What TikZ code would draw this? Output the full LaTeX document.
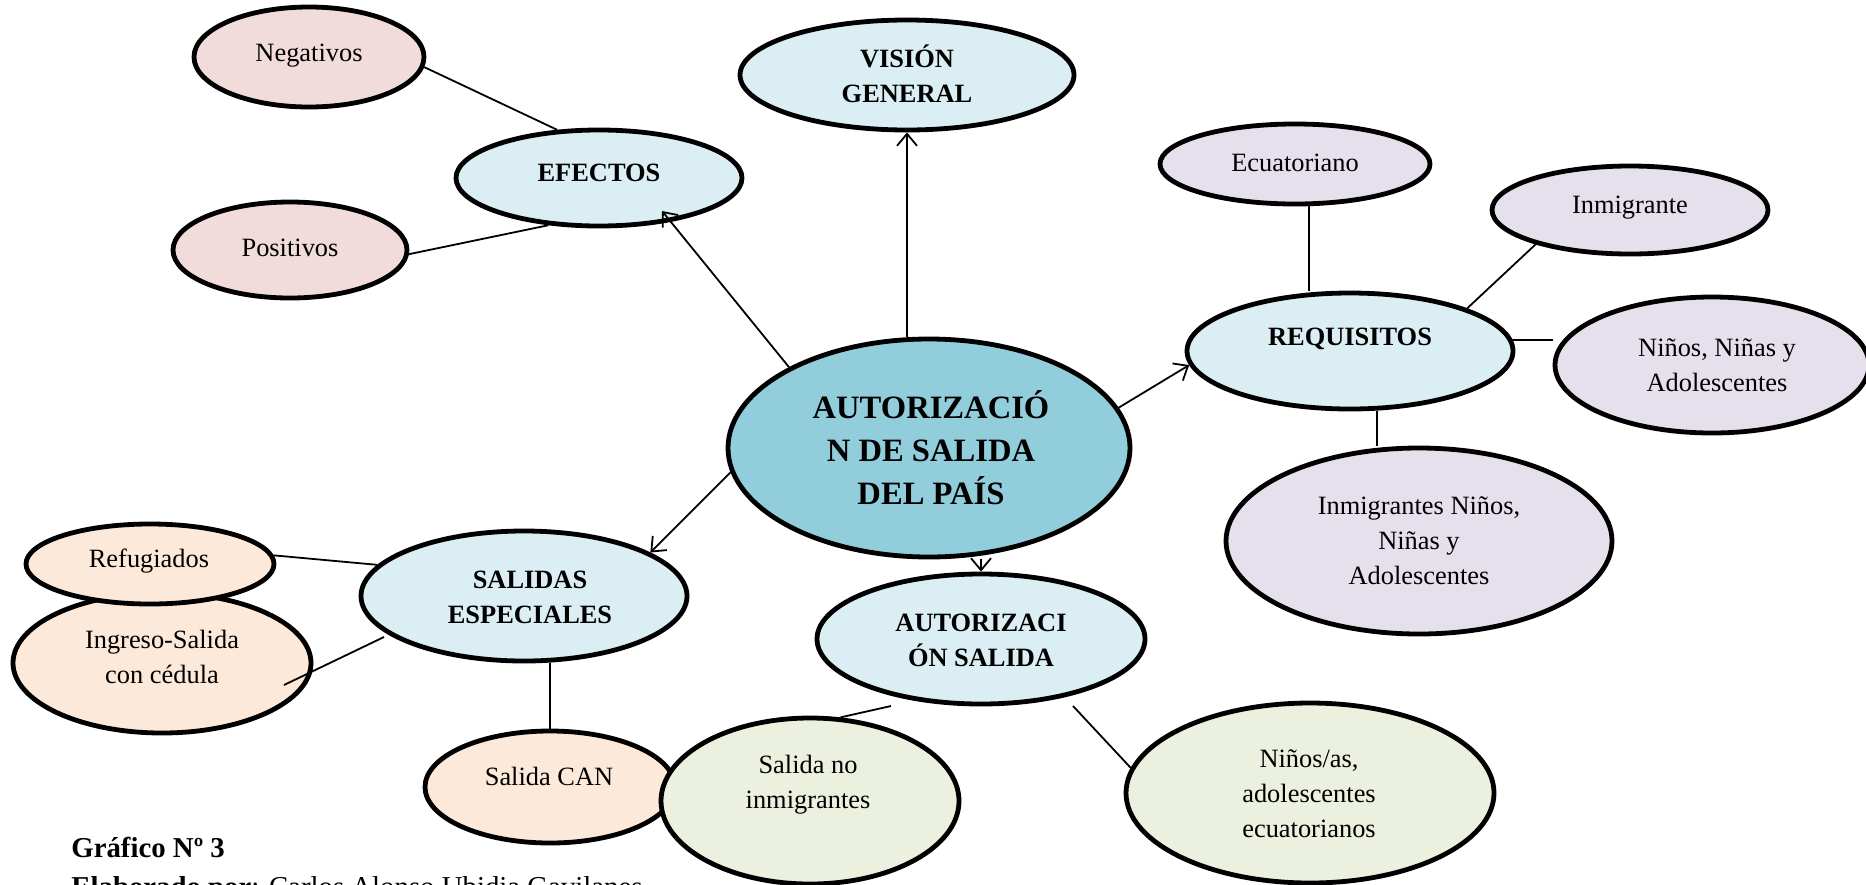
\documentclass[tikz,border=0pt]{standalone}
\usepackage{fontspec}
\setmainfont{Liberation Serif}
\usetikzlibrary{shapes.geometric,arrows.meta}
\definecolor{pinkf}{HTML}{F2DCDB}
\definecolor{bluef}{HTML}{DAEEF3}
\definecolor{cenf}{HTML}{92CDDC}
\definecolor{lavf}{HTML}{E5E0EC}
\definecolor{peachf}{HTML}{FDE9D9}
\definecolor{greenf}{HTML}{EBF1DE}
\begin{document}
\begin{tikzpicture}[x=0.5pt,y=-0.5pt,
  ell/.style={ellipse, draw=black, line width=2.4pt, inner sep=0pt},
  lbl/.style={font=\fontsize{13.2}{17.5}\selectfont, align=center, inner sep=0pt},
  blbl/.style={font=\fontsize{13.2}{17.5}\selectfont\bfseries, align=center, inner sep=0pt},
  conn/.style={line width=0.9pt},
  arr/.style={line width=0.9pt, -{Straight Barb[length=6pt,width=10pt,line width=0.9pt]}}]
\clip (0,0) rectangle (1866,884);
\fill[white] (0,0) rectangle (1866,884);
% ellipses
\node[ell, fill=pinkf, minimum width=115pt, minimum height=50pt] (neg) at (309,57) {};
\node[ell, fill=bluef, minimum width=143pt, minimum height=48pt] (efe) at (599,178) {};
\node[ell, fill=pinkf, minimum width=117pt, minimum height=48pt] (pos) at (290,250) {};
\node[ell, fill=bluef, minimum width=167pt, minimum height=55pt] (vis) at (907,75) {};
\node[ell, fill=lavf, minimum width=135pt, minimum height=40pt] (ecu) at (1295,164) {};
\node[ell, fill=lavf, minimum width=138pt, minimum height=44pt] (inm) at (1630,210) {};
\node[ell, fill=bluef, minimum width=163pt, minimum height=58pt] (req) at (1350,351) {};
\node[ell, fill=lavf, minimum width=157pt, minimum height=68pt] (nna) at (1712,365) {};
\node[ell, fill=lavf, minimum width=193pt, minimum height=93pt] (inn) at (1419,541) {};
\node[ell, fill=cenf, minimum width=201pt, minimum height=109pt] (cen) at (929,448) {};
\node[ell, fill=bluef, minimum width=164pt, minimum height=65pt] (aut) at (981,639) {};
\node[ell, fill=bluef, minimum width=163pt, minimum height=65pt] (sal) at (524,596) {};
\node[ell, fill=peachf, minimum width=149pt, minimum height=70pt] (ing) at (162,663) {};
\node[ell, fill=peachf, minimum width=124pt, minimum height=40pt] (ref) at (150,564) {};
\node[ell, fill=peachf, minimum width=125pt, minimum height=56pt] (can) at (550,787) {};
\node[ell, fill=greenf, minimum width=149pt, minimum height=83pt] (sni) at (810,801) {};
\node[ell, fill=greenf, minimum width=184pt, minimum height=90pt] (nae) at (1310,793) {};
% free ends
\coordinate (efeTip) at ([shift={(63,33)}]efe.center);
\coordinate (ingEnd) at ([shift={(122,22)}]ing.center);
\coordinate (salEnd) at ([shift={(-140,41)}]sal.center);
\coordinate (autL) at ([shift={(-90,67)}]aut.center);
\coordinate (autR) at ([shift={(92,67)}]aut.center);
% connectors
\draw[conn] (neg.-5) -- (efe.131);
\draw[conn] (pos.-2) -- (efe.-137);
\draw[arr] (cen.150) -- (efeTip);
\draw[arr] (cen.north -| vis.south) -- (vis.south);
\draw[arr] (cen.12) -- (req.-175);
\draw[arr] (cen.-173) -- (sal.19);
\draw[arr] (cen.south -| aut.north) -- (aut.north);
\draw[conn] ([xshift=7pt]ecu.south) -- ([xshift=7pt]ecu.south |- req.north);
\draw[conn] (inm.-160) -- (req.20);
\draw[conn] (req.4) -- (req.4 -| nna.west);
\draw[conn] ([xshift=13.5pt]req.south) -- ([xshift=13.5pt]req.south |- inn.north);
\draw[conn] (ref.4) -- (sal.168);
\draw[conn] (ingEnd) -- (salEnd);
\draw[conn] (sal.south -| can.north) -- (can.north);
\draw[conn] (autL) -- (sni.70);
\draw[conn] (autR) -- (nae.172);
% texts
\node[lbl] (negT) at (309,56) {Negativos};
\node[blbl] (efeT) at (599,173) {EFECTOS};
\node[lbl] (posT) at (290,248) {Positivos};
\node[blbl] (visT) at (907,74) {VISIÓN\\GENERAL};
\node[lbl] (ecuT) at (1295,163) {Ecuatoriano};
\node[lbl] (inmT) at (1630,208) {Inmigrante};
\node[blbl] (reqT) at (1350,339) {REQUISITOS};
\node[lbl] (nnaT) at (1717,365) {Niños, Niñas y\\Adolescentes};
\node[lbl] (innT) at (1419,541) {Inmigrantes Niños,\\Niñas y\\Adolescentes};
\node[font=\fontsize{16.3}{21.5}\selectfont\bfseries, align=center, inner sep=0pt] (cenT) at (931,448) {AUTORIZACIÓ\\N DE SALIDA\\DEL PAÍS};
\node[blbl] (autT) at (981,640) {AUTORIZACI\\ÓN SALIDA};
\node[blbl] (salT) at (530,597) {SALIDAS\\ESPECIALES};
\node[lbl] (refT) at (149,561) {Refugiados};
\node[lbl] (ingT) at (162,657) {Ingreso-Salida\\con cédula};
\node[lbl] (canT) at (549,776) {Salida CAN};
\node[lbl] (sniT) at (808,785) {Salida no\\inmigrantes};
\node[lbl] (naeT) at (1309,794) {Niños/as,\\adolescentes\\ecuatorianos};
\node[anchor=base west, inner sep=0pt, font=\fontsize{14.4}{17}\selectfont\bfseries] (gra) at (71,857) {Gráfico Nº 3};
\node[anchor=base west, inner sep=0pt, font=\fontsize{14.4}{17}\selectfont] (ela) at (71,896) {\textbf{Elaborado por}: Carlos Alonso Ubidia Gavilanes};
\end{tikzpicture}
\end{document}
